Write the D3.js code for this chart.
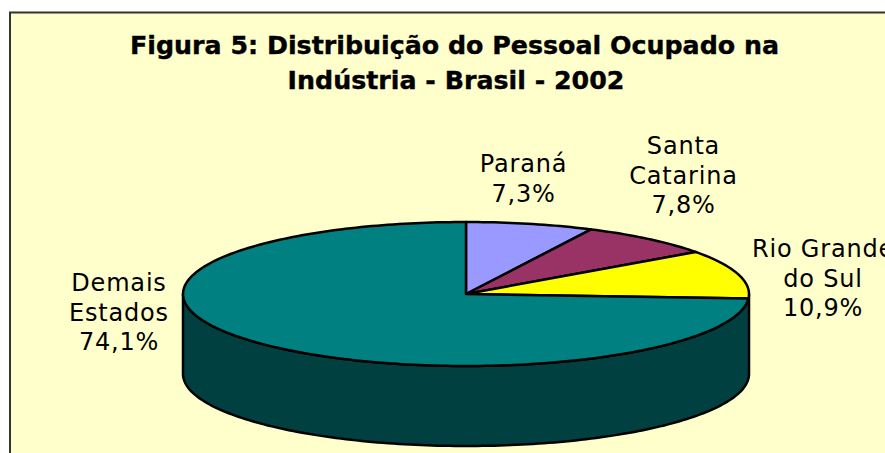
<!DOCTYPE html>
<html>
<head>
<meta charset="utf-8">
<script src="https://cdn.jsdelivr.net/npm/d3@7"></script>
<style>
    html, body { margin: 0; padding: 0; background: #fff; overflow: hidden; }
    text { font-family: "DejaVu Sans", sans-serif; fill: #000; }
</style>
</head>
<body>
<svg id="chart" width="885" height="453"></svg>
<script>
const titleLines = ["Figura 5: Distribuição do Pessoal Ocupado na", "Indústria - Brasil - 2002"];
const categories = [["Paraná"], ["Santa", "Catarina"], ["Rio Grande", "do Sul"], ["Demais", "Estados"]];
const values = [7.3, 7.8, 10.9, 74.1];
const valueLabels = ["7,3%", "7,8%", "10,9%", "74,1%"];
const sliceColors = ["#9999ff", "#993366", "#ffff00", "#008080"];
const sideColor = "#004040";

const svg = d3.select("#chart");
const cx = 466, cy = 294, rx = 283, ry = 72, depth = 80;

// clockwise from 12 o'clock, squashed circle
const px = a => cx + rx * Math.sin(a);
const py = a => cy - ry * Math.cos(a);
const line = d3.line();

function arcPoints(a0, a1, dy) {
    const n = Math.max(2, Math.ceil(Math.abs(a1 - a0) / 0.02));
    return d3.range(n + 1).map(i => {
        const a = a0 + (a1 - a0) * i / n;
        return [px(a), py(a) + dy];
    });
}

svg.append("rect")
    .attr("x", 10).attr("y", 12.5)
    .attr("width", 900).attr("height", 460)
    .attr("fill", "#ffffcc")
    .attr("stroke", "#333")
    .attr("stroke-width", 2);

const slices = d3.pie().sort(null)(values);

// side wall, only the front half shows
const wallStart = Math.PI / 2, wallEnd = Math.PI * 1.5;
svg.append("path")
    .attr("d", line(arcPoints(wallStart, wallEnd, 0).concat(arcPoints(wallEnd, wallStart, depth))) + "Z")
    .attr("fill", sideColor)
    .attr("stroke", "#000")
    .attr("stroke-width", 2.5);

svg.selectAll("path.slice")
    .data(slices)
    .join("path")
    .attr("class", "slice")
    .attr("d", d => line([[cx, cy]].concat(arcPoints(d.startAngle, d.endAngle, 0))) + "Z")
    .attr("fill", (d, i) => sliceColors[i])
    .attr("stroke", "#000")
    .attr("stroke-width", 2.5)
    .attr("stroke-linejoin", "round");

const title = svg.append("text")
    .attr("text-anchor", "middle")
    .attr("font-weight", "bold")
    .attr("font-size", 25.3)
    .attr("stroke", "#000")
    .attr("stroke-width", 0.4);
titleLines.forEach((t, i) => {
    title.append("tspan").attr("x", i ? 456 : 454.5).attr("y", 54 + i * 35).text(t);
});

// label centre x and first baseline
const labelPos = [[523.5, 172], [683.5, 154], [823, 257], [119, 291]];
const lineGap = 29.7;
categories.forEach((lines, i) => {
    const label = svg.append("text")
        .attr("text-anchor", "middle")
        .attr("font-size", 24)
        .attr("letter-spacing", 0.8);
    lines.concat(valueLabels[i]).forEach((t, j) => {
        label.append("tspan")
            .attr("x", labelPos[i][0])
            .attr("y", labelPos[i][1] + j * lineGap)
            .text(t);
    });
});
</script>
</body>
</html>
